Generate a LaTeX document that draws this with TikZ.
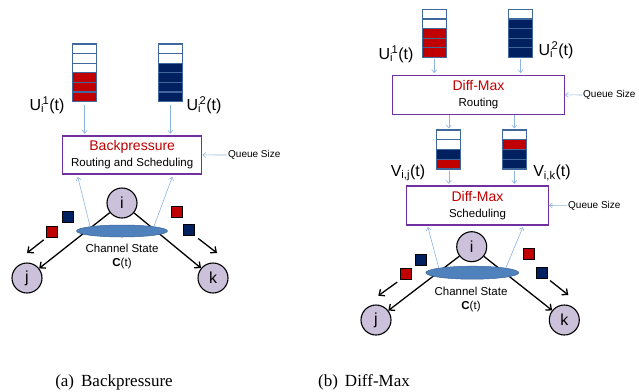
\documentclass[tikz,border=0pt]{standalone}
\usepackage{fontspec}
\setmainfont{Liberation Sans}
\newfontfamily\capfont{Liberation Serif}
\usetikzlibrary{arrows.meta,positioning,calc,shapes.geometric}
\definecolor{QRed}{HTML}{C00000}
\definecolor{QNavy}{HTML}{002060}
\definecolor{QEdge}{HTML}{41689C}
\definecolor{Lilac}{HTML}{CCC1DA}
\definecolor{ChanBlue}{HTML}{4F81BD}
\definecolor{ChanEdge}{HTML}{3C6496}
\definecolor{LinkBlue}{HTML}{8EB4E3}
\definecolor{BoxPurple}{HTML}{7030A0}

\begin{document}
\begin{tikzpicture}[x=1pt,y=-1pt,
    cell/.style={draw=QEdge,line width=1.2pt,minimum width=24pt,minimum height=9.6pt,inner sep=0pt},
    ctrl/.style={draw=BoxPurple,line width=1.3pt,fill=white,align=center,inner sep=0pt,font=\fontsize{11.5}{16}\selectfont},
    link/.style={draw=LinkBlue,line width=0.6pt,-{Straight Barb[length=3pt,width=5pt]}},
    hop/.style={draw=black,line width=1.3pt,-{Straight Barb[length=4.5pt,width=8pt]}},
    vertex/.style={circle,draw=black,line width=1.1pt,fill=Lilac,minimum size=30pt,inner sep=0pt,font=\fontsize{16}{16}\selectfont},
    chan/.style={ellipse,fill=ChanBlue,draw=ChanEdge,line width=0.5pt,minimum height=12pt,inner sep=0pt},
    pkt/.style={draw=black,line width=1pt,minimum size=11pt,inner sep=0pt},
    qlabel/.style={font=\fontsize{16}{16}\selectfont,inner sep=0pt},
    qsize/.style={font=\fontsize{10}{11}\selectfont,anchor=west,inner sep=0pt},
    chtext/.style={font=\fontsize{11.5}{14}\selectfont,align=center,inner sep=0pt},
    subcap/.style={font=\capfont\fontsize{17}{19}\selectfont,inner sep=0pt}]
  \useasboundingbox (0,0) rectangle (639,391);

  % (a) backpressure
  \foreach \c [count=\n] in {white,white,white,QRed,QRed,QRed}
    \node[cell,fill=\c] (qa\n) at (84.7,39.2+9.6*\n) {};
  \foreach \c [count=\n] in {white,white,QNavy,QNavy,QNavy,QNavy}
    \node[cell,fill=\c] (qb\n) at (170.3,39.2+9.6*\n) {};
  \node[qlabel] (ua) at (47,105) {U\textsubscript{i}\kern-1.5pt\textsuperscript{1}(t)};
  \node[qlabel] (ub) at (204,105) {U\textsubscript{i}\kern-1.5pt\textsuperscript{2}(t)};
  \node[ctrl,minimum width=139pt,minimum height=38pt] (bp) at (132.2,154.9)
    {\textcolor{QRed}{\fontsize{14}{16}\selectfont Backpressure}\\Routing and Scheduling};
  \node[qsize] (qsa) at (228,155) {Queue Size};
  \draw[link,shorten <=1pt] (qsa.west) -- (bp.east);
  \draw[link,shorten <=2.5pt,shorten >=1.5pt] (qa6.south) -- (qa6.south |- bp.north);
  \draw[link,shorten <=2.5pt,shorten >=1.5pt] (qb6.south) -- (qb6.south |- bp.north);

  \node[vertex] (ia) at (122,203) {i};
  \node[vertex] (ja) at (27,278) {j};
  \node[vertex] (ka) at (213,278) {k};
  \draw[hop] (ia) -- (ja);
  \draw[hop] (ia) -- (ka);
  \node[chan,minimum width=91pt] (cha) at (122,231) {};
  \node[chtext] (csa) at (122,257) {Channel State\\\textbf{C}(t)};
  \draw[link,shorten >=2.5pt] (cha.172) -- ($(bp.south)+(-55,0)$);
  \draw[link,shorten >=2.5pt] (cha.8) -- ($(bp.south)+(41,0)$);

  \node[pkt,fill=QNavy] (pa1) at (68,217) {};
  \node[pkt,fill=QRed] (pa2) at (52,232) {};
  \node[pkt,fill=QRed] (pa3) at (177,212) {};
  \node[pkt,fill=QNavy] (pa4) at (189,230) {};
  \coordinate (da) at (27,253);
  \coordinate (db) at (217,253);
  \draw[hop,shorten <=3pt] (pa2.south west) -- (da);
  \draw[hop,shorten <=4pt] (pa4.south east) -- (db);

  % (b) diff-max
  \foreach \c [count=\n] in {white,white,QRed,QRed,QRed}
    \node[cell,fill=\c] (qc\n) at (434.2,4.5+9.6*\n) {};
  \foreach \c [count=\n] in {white,QNavy,QNavy,QNavy,QNavy}
    \node[cell,fill=\c] (qd\n) at (520.5,4.5+9.6*\n) {};
  \node[qlabel] (uc) at (396,54) {U\textsubscript{i}\kern-1.5pt\textsuperscript{1}(t)};
  \node[qlabel] (ud) at (556,50) {U\textsubscript{i}\kern-1.5pt\textsuperscript{2}(t)};
  \node[ctrl,minimum width=171.6pt,minimum height=39pt] (rt) at (478.5,94.8)
    {\textcolor{QRed}{\fontsize{14}{16}\selectfont Diff-Max}\\Routing};
  \node[qsize] (qsb) at (583,95) {Queue Size};
  \draw[link,shorten <=1pt] (qsb.west) -- (rt.east);
  \draw[link,shorten <=1.5pt,shorten >=1.5pt] (qc5.south) -- (qc5.south |- rt.north);
  \draw[link,shorten <=1.5pt,shorten >=1.5pt] (qd5.south) -- (qd5.south |- rt.north);

  \foreach \c [count=\n] in {white,white,QNavy,QRed}
    \node[cell,fill=\c,minimum height=9.75pt] (qe\n) at (448.8,125.1+9.75*\n) {};
  \foreach \c [count=\n] in {white,QRed,QNavy,QNavy}
    \node[cell,fill=\c,minimum height=9.75pt] (qf\n) at (514.3,125.1+9.75*\n) {};
  \draw[link,shorten >=1pt] (rt.south -| qe1.north) -- (qe1.north);
  \draw[link,shorten >=1pt] (rt.south -| qf1.north) -- (qf1.north);
  \node[qlabel] (va) at (408,173) {V\textsubscript{i,j}(t)};
  \node[qlabel] (vb) at (552,173) {V\textsubscript{i,k}(t)};
  \node[ctrl,minimum width=141.6pt,minimum height=39pt] (sc) at (477.5,205.5)
    {\textcolor{QRed}{\fontsize{14}{16}\selectfont Diff-Max}\\Scheduling};
  \node[qsize] (qsc) at (568,205.7) {Queue Size};
  \draw[link,shorten <=1pt] (qsc.west) -- (sc.east);
  \draw[link,shorten <=1.5pt,shorten >=1.5pt] (qe4.south) -- (qe4.south |- sc.north);
  \draw[link,shorten <=1.5pt,shorten >=1.5pt] (qf4.south) -- (qf4.south |- sc.north);

  \node[vertex] (ib) at (471.7,246.7) {i};
  \node[vertex] (jb) at (376,320) {j};
  \node[vertex] (kb) at (564.3,320) {k};
  \draw[hop] (ib) -- (jb);
  \draw[hop] (ib) -- (kb);
  \node[chan,minimum width=93pt,minimum height=13pt] (chb) at (472.3,272.7) {};
  \node[chtext] (csb) at (471,299.5) {Channel State\\\textbf{C}(t)};
  \draw[link,shorten >=1.5pt] (chb.172) -- ($(sc.south)+(-50,0)$);
  \draw[link,shorten >=1.5pt] (chb.8) -- ($(sc.south)+(46,0)$);

  \node[pkt,fill=QNavy] (pb1) at (420.7,260) {};
  \node[pkt,fill=QRed] (pb2) at (405.7,274.3) {};
  \node[pkt,fill=QRed] (pb3) at (529.3,254.3) {};
  \node[pkt,fill=QNavy] (pb4) at (541.7,272.7) {};
  \coordinate (dc) at (378.3,295.7);
  \coordinate (dd) at (568.3,295);
  \draw[hop,shorten <=3pt] (pb2.south west) -- (dc);
  \draw[hop,shorten <=3pt] (pb4.south east) -- (dd);

  \node[subcap] (capa) at (114,382) {(a)\hspace{7pt}Backpressure};
  \node[subcap] (capb) at (364,382) {(b)\hspace{7pt}Diff-Max};
\end{tikzpicture}
\end{document}
